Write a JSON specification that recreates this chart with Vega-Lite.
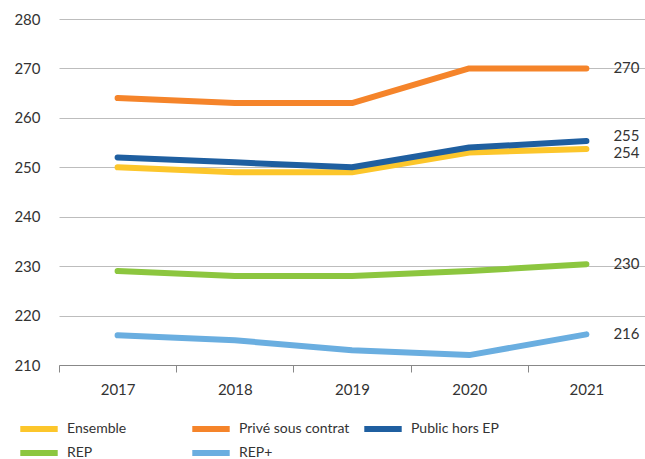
{
  "$schema": "https://vega.github.io/schema/vega-lite/v6.json",
  "autosize": {"type": "none"},
  "padding": {"left": 59, "top": 19, "right": 0, "bottom": 94},
  "width": 586,
  "height": 346,
  "background": "white",
  "config": {
    "font": "Lato",
    "view": {"stroke": null},
    "axis": {"labelFont": "Lato", "labelFontSize": 15, "labelColor": "#333333"},
    "legend": {"labelFont": "Lato", "labelFontSize": 14, "labelColor": "#333333"}
  },
  "data": {
    "values": [
      {"annee": "2017", "groupe": "Ensemble", "score": 250},
      {"annee": "2018", "groupe": "Ensemble", "score": 249},
      {"annee": "2019", "groupe": "Ensemble", "score": 249},
      {"annee": "2020", "groupe": "Ensemble", "score": 253},
      {"annee": "2021", "groupe": "Ensemble", "score": 253.7},
      {"annee": "2017", "groupe": "Privé sous contrat", "score": 264},
      {"annee": "2018", "groupe": "Privé sous contrat", "score": 263},
      {"annee": "2019", "groupe": "Privé sous contrat", "score": 263},
      {"annee": "2020", "groupe": "Privé sous contrat", "score": 270},
      {"annee": "2021", "groupe": "Privé sous contrat", "score": 270},
      {"annee": "2017", "groupe": "Public hors EP", "score": 252},
      {"annee": "2018", "groupe": "Public hors EP", "score": 251},
      {"annee": "2019", "groupe": "Public hors EP", "score": 250},
      {"annee": "2020", "groupe": "Public hors EP", "score": 254},
      {"annee": "2021", "groupe": "Public hors EP", "score": 255.3},
      {"annee": "2017", "groupe": "REP", "score": 229},
      {"annee": "2018", "groupe": "REP", "score": 228},
      {"annee": "2019", "groupe": "REP", "score": 228},
      {"annee": "2020", "groupe": "REP", "score": 229},
      {"annee": "2021", "groupe": "REP", "score": 230.4},
      {"annee": "2017", "groupe": "REP+", "score": 216},
      {"annee": "2018", "groupe": "REP+", "score": 215},
      {"annee": "2019", "groupe": "REP+", "score": 213},
      {"annee": "2020", "groupe": "REP+", "score": 212},
      {"annee": "2021", "groupe": "REP+", "score": 216.2}
    ]
  },
  "encoding": {
    "x": {
      "field": "annee",
      "type": "ordinal",
      "scale": {"type": "band", "paddingInner": 0, "paddingOuter": 0},
      "axis": {
        "title": null,
        "labelAngle": 0,
        "tickBand": "extent",
        "tickSize": 7,
        "tickColor": "#888888",
        "domainColor": "#888888",
        "labelPadding": 10,
        "grid": false
      }
    },
    "y": {
      "field": "score",
      "type": "quantitative",
      "scale": {"domain": [210, 280], "nice": false, "zero": false},
      "axis": {
        "title": null,
        "values": [210, 220, 230, 240, 250, 260, 270, 280],
        "domain": false,
        "ticks": false,
        "labelPadding": 19,
        "gridColor": "#bdbdbd",
        "gridWidth": 1
      }
    },
    "color": {
      "field": "groupe",
      "type": "nominal",
      "scale": {
        "domain": ["Ensemble", "Privé sous contrat", "Public hors EP", "REP", "REP+"],
        "range": ["#fcc62b", "#f5842a", "#1f5fa0", "#8cc63f", "#6aaee0"]
      },
      "legend": {
        "title": null,
        "orient": "none",
        "legendX": -42,
        "legendY": 403,
        "direction": "horizontal",
        "columns": 3,
        "gridAlign": "all",
        "columnPadding": 11,
        "rowPadding": 10,
        "clipHeight": 14,
        "symbolType": "stroke",
        "symbolSize": 1400,
        "symbolStrokeWidth": 6,
        "labelOffset": 6
      }
    }
  },
  "layer": [
    {
      "mark": {"type": "line", "strokeWidth": 6, "strokeCap": "round", "strokeJoin": "round"}
    },
    {
      "transform": [{"filter": "datum.annee === '2021' && datum.groupe !== 'Ensemble' && datum.groupe !== 'Public hors EP'"}],
      "mark": {"type": "text", "align": "left", "baseline": "middle", "dx": 27, "fontSize": 15, "color": "#333333"},
      "encoding": {
        "text": {"field": "score", "type": "quantitative", "format": ".0f"},
        "color": {"value": "#333333"}
      }
    },
    {
      "transform": [{"filter": "datum.annee === '2021' && datum.groupe === 'Public hors EP'"}],
      "mark": {"type": "text", "align": "left", "baseline": "middle", "dx": 27, "dy": -5, "fontSize": 15, "color": "#333333"},
      "encoding": {
        "text": {"field": "score", "type": "quantitative", "format": ".0f"},
        "color": {"value": "#333333"}
      }
    },
    {
      "transform": [{"filter": "datum.annee === '2021' && datum.groupe === 'Ensemble'"}],
      "mark": {"type": "text", "align": "left", "baseline": "middle", "dx": 27, "dy": 4, "fontSize": 15, "color": "#333333"},
      "encoding": {
        "text": {"field": "score", "type": "quantitative", "format": ".0f"},
        "color": {"value": "#333333"}
      }
    }
  ]
}
